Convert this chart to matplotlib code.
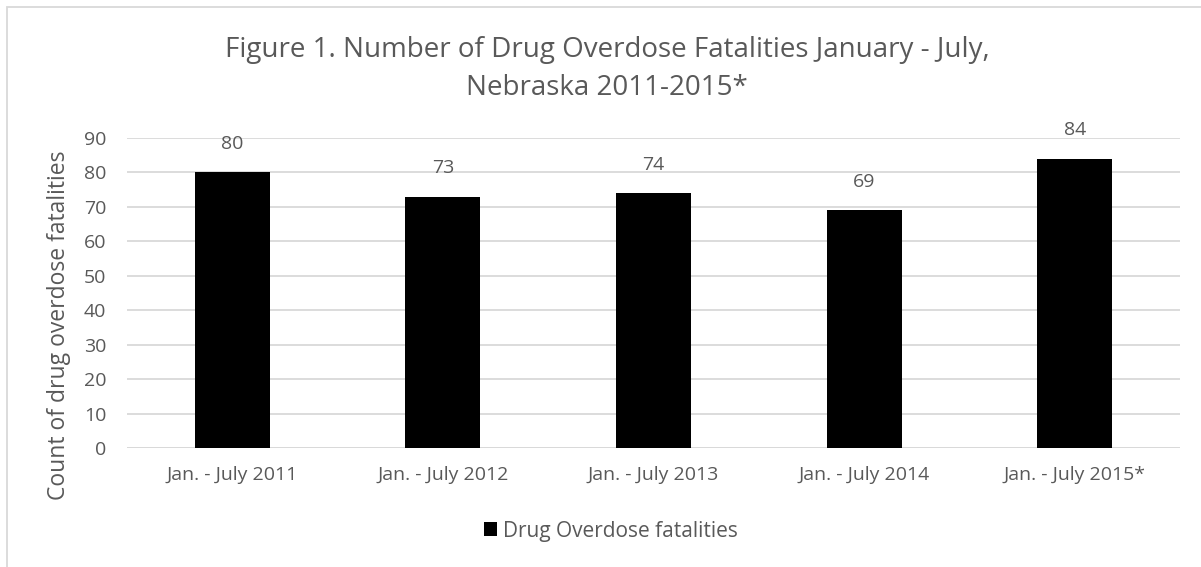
import matplotlib.pyplot as plt
from matplotlib.patches import Rectangle

categories = ['Jan. - July 2011', 'Jan. - July 2012', 'Jan. - July 2013',
              'Jan. - July 2014', 'Jan. - July 2015*']
fatalities = [80, 73, 74, 69, 84]
yticks = list(range(0, 91, 10))

plt.rcParams['font.family'] = ['Open Sans', 'DejaVu Sans']
txt = '#595959'
grid = '#d9d9d9'
W, H = 1201, 567

fig = plt.figure(figsize=(W / 100, H / 100), dpi=100)
ax = fig.add_axes([127 / W, 1 - 448 / H, (1180 - 127) / W, (448 - 138) / H])

x = range(len(categories))
bars = ax.bar(x, fatalities, width=0.356, color='black', zorder=3,
              label='Drug Overdose fatalities')
for b, v in zip(bars, fatalities):
    ax.annotate(str(v), (b.get_x() + b.get_width() / 2, v), xytext=(0, 14),
                textcoords='offset points', ha='center', va='bottom',
                fontsize=14, color=txt)

ax.set_xlim(-0.5, len(categories) - 0.5)
ax.set_ylim(0, 90)
ax.set_yticks(yticks)
ax.set_xticks(list(x))
ax.set_xticklabels(categories)
ax.tick_params(length=0, labelsize=14, colors=txt)
ax.tick_params(axis='x', pad=13)
ax.tick_params(axis='y', pad=15)
ax.yaxis.grid(True, color=grid, linewidth=1.3, zorder=0)
for s in ax.spines.values():
    s.set_visible(False)
ax.axhline(0, color=grid, linewidth=1.3, zorder=1)

# axis title, placed by hand like the reference
fig.text(59 / W, 1 - 325 / H, 'Count of drug overdose fatalities',
         rotation=90, ha='center', va='center', fontsize=16.5, color=txt)

fig.text(607 / W, 1 - 57 / H,
         'Figure 1. Number of Drug Overdose Fatalities January - July,',
         ha='center', va='baseline', fontsize=20, color=txt)
fig.text(607 / W, 1 - 95 / H, 'Nebraska 2011-2015*',
         ha='center', va='baseline', fontsize=20, color=txt)

fig.legend(loc='center', bbox_to_anchor=(611 / W, 1 - 531 / H), frameon=False,
           fontsize=15, labelcolor=txt, handlelength=0.65, handleheight=0.65,
           handletextpad=0.3)

fig.patches.append(Rectangle((7 / W, -0.1), 1.1, 1 - 7 / H + 0.1,
                             transform=fig.transFigure, fill=False,
                             edgecolor=grid, linewidth=1.3))

fig.savefig('out.png', dpi=100)
